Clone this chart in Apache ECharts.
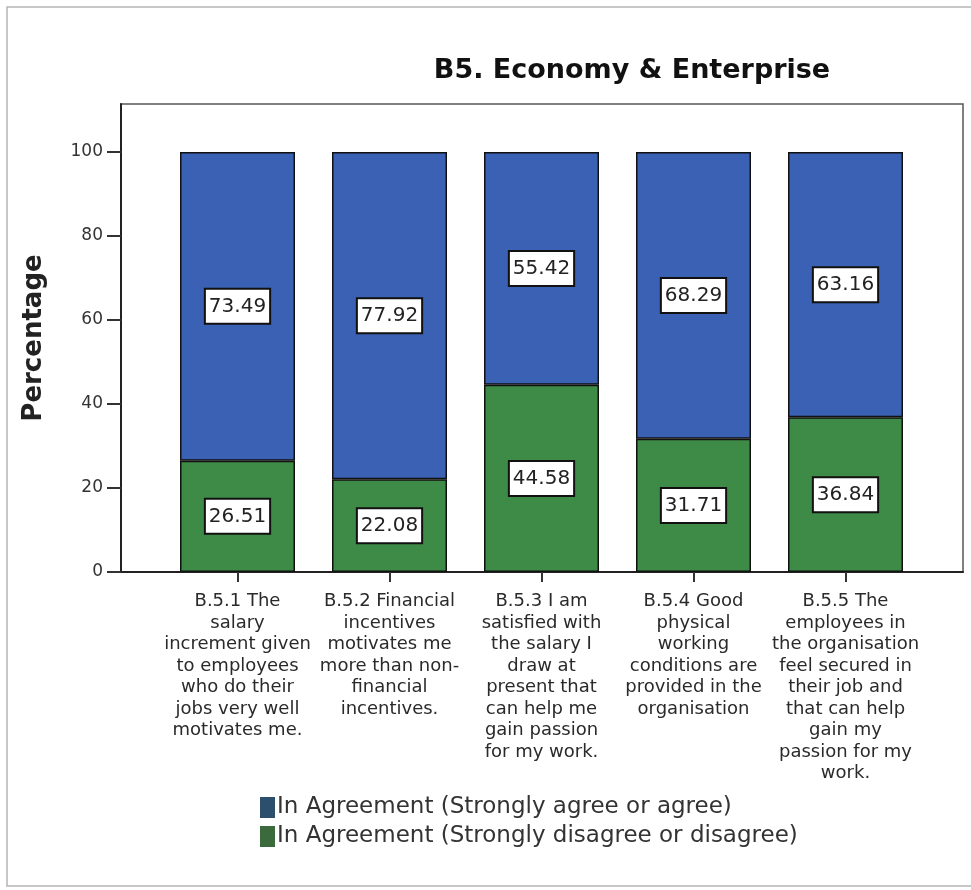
<!DOCTYPE html>
<html>
<head>
<meta charset="utf-8">
<script src="https://cdn.jsdelivr.net/npm/echarts@6/dist/echarts.min.js"></script>
<style>
  html, body { margin: 0; padding: 0; background: #ffffff; }
  #chart { width: 971px; height: 890px; }
</style>
</head>
<body>
<div id="chart"></div>
<script>
// Survey items (wrapped as printed under each bar)
const categories = [
  'B.5.1 The\nsalary\nincrement given\nto employees\nwho do their\njobs very well\nmotivates me.',
  'B.5.2 Financial\nincentives\nmotivates me\nmore than non-\nfinancial\nincentives.',
  'B.5.3 I am\nsatisfied with\nthe salary I\ndraw at\npresent that\ncan help me\ngain passion\nfor my work.',
  'B.5.4 Good\nphysical\nworking\nconditions are\nprovided in the\norganisation',
  'B.5.5 The\nemployees in\nthe organisation\nfeel secured in\ntheir job and\nthat can help\ngain my\npassion for my\nwork.'
];

const seriesNames = [
  'In Agreement (Strongly agree or agree)',
  'In Agreement (Strongly disagree or disagree)'
];

// Percent of respondents per item
const agreeValues = [73.49, 77.92, 55.42, 68.29, 63.16];
const disagreeValues = [26.51, 22.08, 44.58, 31.71, 36.84];

const yTicks = [0, 20, 40, 60, 80, 100];

const BLUE = '#3a61b3';
const GREEN = '#3d8b47';
const FONT = 'DejaVu Sans';

const chart = echarts.init(document.getElementById('chart'), null, { renderer: 'canvas' });

const valueLabel = {
  show: true,
  position: 'inside',
  formatter: p => p.value.toFixed(2),
  fontFamily: FONT,
  fontSize: 20,
  color: '#222',
  backgroundColor: '#ffffff',
  borderColor: '#111',
  borderWidth: 2,
  padding: [7, 3, 6, 3]
};

const option = {
  backgroundColor: '#ffffff',
  animation: false,
  title: {
    text: 'B5. Economy & Enterprise',
    left: 627,
    top: 52,
    textAlign: 'center',
    textStyle: { fontFamily: FONT, fontWeight: 'bold', fontSize: 27, color: '#111' }
  },
  graphic: [{
    type: 'rect',
    shape: { x: 7, y: 7, width: 1000, height: 879 },
    style: { fill: 'none', stroke: '#b5b5b5', lineWidth: 1.5 },
    silent: true,
    z: -1
  }],
  legend: {
    orient: 'vertical',
    left: 255,
    top: 791,
    itemWidth: 15,
    itemHeight: 21,
    itemGap: 6,
    icon: 'rect',
    selectedMode: false,
    textStyle: { fontFamily: FONT, fontSize: 23, color: '#333', padding: [0, 0, 0, -3] },
    data: [
      { name: seriesNames[0], itemStyle: { color: '#2d4f6e', borderWidth: 0 } },
      { name: seriesNames[1], itemStyle: { color: '#3b6a3d', borderWidth: 0 } }
    ]
  },
  grid: [
    // plot frame
    { left: 121, top: 104, right: 8, bottom: 318, show: true, borderColor: '#555', borderWidth: 1.5, containLabel: false },
    // bar area
    { left: 161.5, top: 152, right: 49.5, bottom: 318, containLabel: false }
  ],
  xAxis: [
    {
      gridIndex: 0, type: 'value', min: 0, max: 1,
      axisLine: { show: true, lineStyle: { color: '#222', width: 2 } },
      axisTick: { show: false }, axisLabel: { show: false }, splitLine: { show: false }
    },
    {
      gridIndex: 1, type: 'category', data: categories,
      axisLine: { show: false },
      axisTick: { show: true, alignWithLabel: true, length: 10, lineStyle: { color: '#333', width: 2 } },
      axisLabel: {
        interval: 0, margin: 19,
        fontFamily: FONT, fontSize: 18, lineHeight: 21.5, color: '#2a2a2a', align: 'center'
      },
      splitLine: { show: false }
    }
  ],
  yAxis: [
    {
      gridIndex: 0, type: 'value', min: 0, max: 1,
      name: 'Percentage', nameLocation: 'middle', nameGap: 74, nameRotate: 90,
      nameTextStyle: { fontFamily: FONT, fontWeight: 'bold', fontSize: 26, color: '#222' },
      axisLine: { show: true, lineStyle: { color: '#222', width: 2 } },
      axisTick: { show: false }, axisLabel: { show: false }, splitLine: { show: false }
    },
    {
      gridIndex: 1, type: 'value', min: yTicks[0], max: yTicks[yTicks.length - 1], interval: 20,
      offset: 40.5,
      axisLine: { show: false },
      axisTick: { show: true, length: 14, lineStyle: { color: '#333', width: 2 } },
      axisLabel: { margin: 18, fontFamily: FONT, fontSize: 17, color: '#333' },
      splitLine: { show: false }
    }
  ],
  series: [
    {
      name: seriesNames[1], type: 'bar', stack: 'total',
      xAxisIndex: 1, yAxisIndex: 1,
      data: disagreeValues, barWidth: 115,
      itemStyle: { color: GREEN, borderColor: '#111', borderWidth: 1.5 },
      label: valueLabel
    },
    {
      name: seriesNames[0], type: 'bar', stack: 'total',
      xAxisIndex: 1, yAxisIndex: 1,
      data: agreeValues, barWidth: 115,
      itemStyle: { color: BLUE, borderColor: '#111', borderWidth: 1.5 },
      label: valueLabel
    }
  ]
};

chart.setOption(option);
</script>
</body>
</html>
